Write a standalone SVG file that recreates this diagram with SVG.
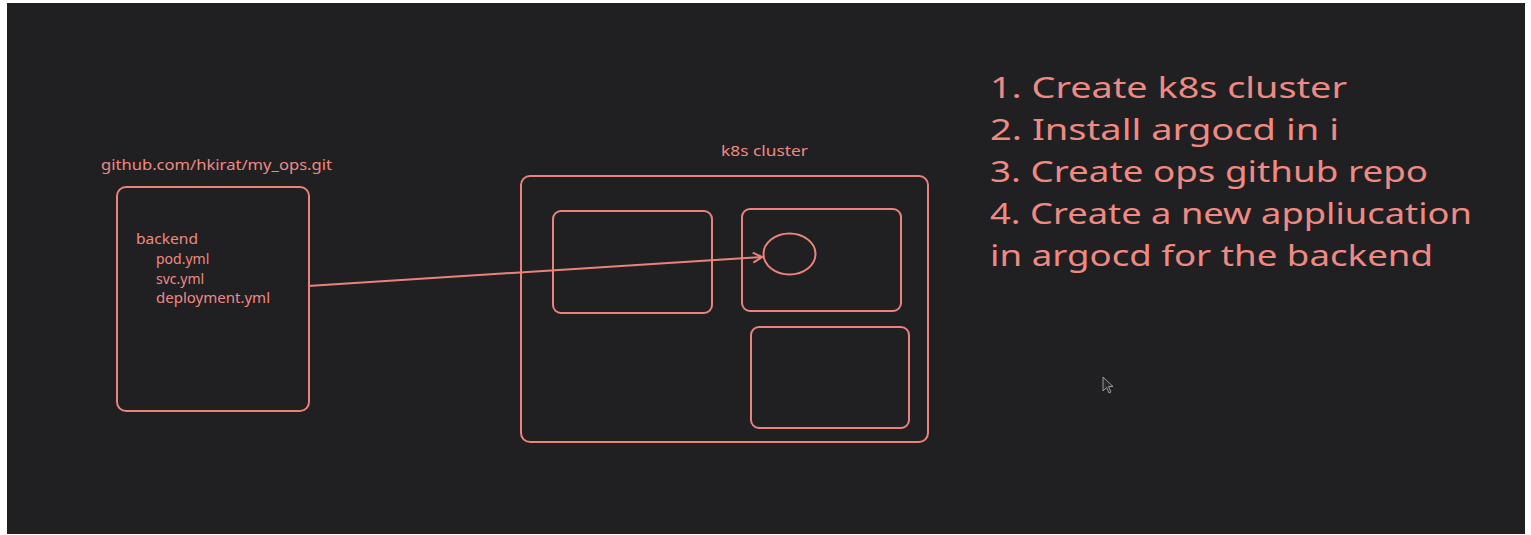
<svg xmlns="http://www.w3.org/2000/svg" width="1531" height="535" viewBox="0 0 1531 535">
  <defs>
    <style>
      .shape { fill: none; stroke: #e9837c; stroke-width: 2; }
      .txt { fill: #ef8a83; font-family: "Noto Sans", "DejaVu Sans", sans-serif; }
      .small { font-size: 14px; }
      .big { font-size: 29px; }
    </style>
    <marker id="arrow" markerWidth="12" markerHeight="12" refX="10" refY="6" orient="auto" markerUnits="userSpaceOnUse">
      <path d="M1,1 L10,6 L1,11" fill="none" stroke="#e9837c" stroke-width="2"/>
    </marker>
  </defs>
  <rect x="0" y="0" width="1531" height="535" fill="#ffffff"/>
  <rect x="7" y="3" width="1518" height="531" fill="#201f22"/>

  <g id="repo">
    <text class="txt small" x="101" y="170" textLength="231" lengthAdjust="spacingAndGlyphs">github.com/hkirat/my_ops.git</text>
    <rect class="shape" x="117" y="187" width="192" height="224" rx="9"/>
    <text class="txt small" x="136" y="244" textLength="62" lengthAdjust="spacingAndGlyphs">backend</text>
    <text class="txt small" x="156" y="264">pod.yml</text>
    <text class="txt small" x="156" y="284">svc.yml</text>
    <text class="txt small" x="156" y="303" textLength="114" lengthAdjust="spacingAndGlyphs">deployment.yml</text>
  </g>

  <g id="cluster">
    <text class="txt small" x="721" y="156" textLength="87" lengthAdjust="spacingAndGlyphs">k8s cluster</text>
    <rect class="shape" x="521" y="176" width="407" height="266" rx="9"/>
  </g>
  <g id="node1">
    <rect class="shape" x="553" y="211" width="159" height="102" rx="8"/>
  </g>
  <g id="node2">
    <rect class="shape" x="742" y="209" width="159" height="102" rx="8"/>
    <ellipse id="pod" class="shape" cx="789.5" cy="254" rx="26" ry="20.5"/>
  </g>
  <g id="node3">
    <rect class="shape" x="751" y="327" width="158" height="101" rx="8"/>
  </g>

  <g id="connectors">
    <line class="shape" x1="308" y1="286" x2="762" y2="257" marker-end="url(#arrow)"/>
  </g>

  <g id="steps">
    <text class="txt big" x="990" y="98" textLength="357" lengthAdjust="spacingAndGlyphs">1. Create k8s cluster</text>
    <text class="txt big" x="990" y="140" textLength="349" lengthAdjust="spacingAndGlyphs">2. Install argocd in i</text>
    <text class="txt big" x="990" y="182" textLength="438" lengthAdjust="spacingAndGlyphs">3. Create ops github repo</text>
    <text class="txt big" x="990" y="224" textLength="482" lengthAdjust="spacingAndGlyphs">4. Create a new appliucation</text>
    <text class="txt big" x="990" y="266" textLength="443" lengthAdjust="spacingAndGlyphs">in argocd for the backend</text>
  </g>

  <g id="cursor">
    <path d="M1103,377 L1103,391 L1106.5,387.5 L1109,393 L1111,392 L1108.5,386.5 L1113,386.5 Z" fill="#2a2a2c" stroke="#9a9a9c" stroke-width="1"/>
  </g>
</svg>
